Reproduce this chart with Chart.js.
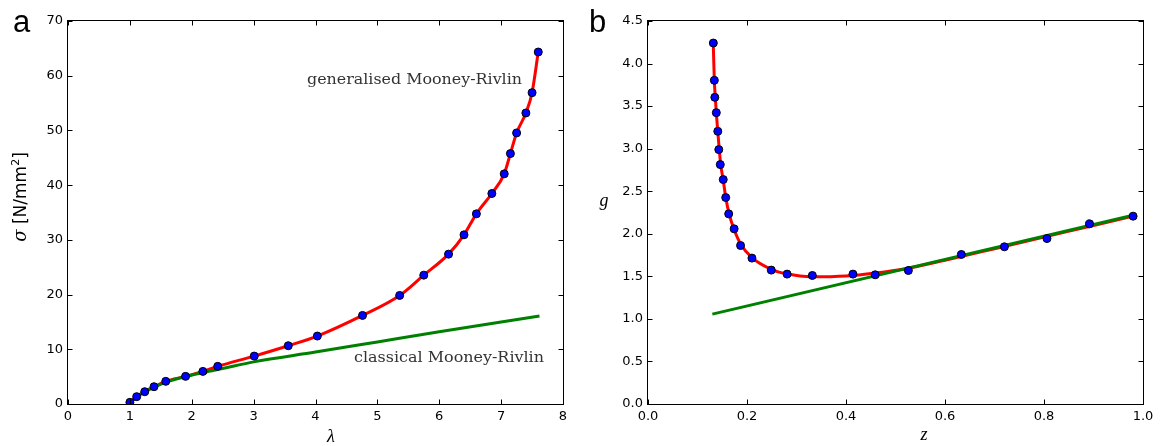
<!DOCTYPE html>
<html>
<head>
<meta charset="utf-8">
<script src="https://cdn.jsdelivr.net/npm/chart.js@4.4.1/dist/chart.umd.min.js"></script>
<style>
  body { margin: 0; background: #fff; }
  #wrap { display: flex; width: 1161px; height: 446px; }
  .panel { position: relative; height: 446px; }
</style>
</head>
<body>
<div id="wrap">
  <div class="panel" style="width:580px"><canvas id="chartA"></canvas></div>
  <div class="panel" style="width:581px"><canvas id="chartB"></canvas></div>
</div>
<script>
// panel a - measured stress vs stretch
const lambdaPts = [1.00, 1.11, 1.24, 1.39, 1.58, 1.90, 2.18, 2.42, 3.01, 3.56, 4.03, 4.76, 5.36, 5.75, 6.15, 6.40, 6.60, 6.85, 7.05, 7.15, 7.25, 7.40, 7.50, 7.60];
const sigmaPts = [0.3, 1.34, 2.25, 3.16, 4.14, 5.05, 5.96, 6.88, 8.76, 10.65, 12.42, 16.19, 19.84, 23.55, 27.39, 30.92, 34.75, 38.47, 42.06, 45.77, 49.54, 53.19, 56.9, 64.33];
// classical Mooney-Rivlin fit
const classicLambda = [1.00, 1.10, 1.25, 1.40, 1.60, 1.90, 2.20, 2.50, 3.00, 4.00, 5.00, 6.00, 7.00, 7.62];
const classicSigma = [0.0, 1.25, 2.3, 3.15, 4.05, 5.0, 5.8, 6.5, 7.7, 9.5, 11.35, 13.2, 15.0, 16.1];
const aXTicks = [0, 1, 2, 3, 4, 5, 6, 7, 8];
const aYTicks = [0, 10, 20, 30, 40, 50, 60, 70];

// panel b - measured points
const zPts = [0.132, 0.134, 0.135, 0.138, 0.141, 0.143, 0.146, 0.152, 0.157, 0.163, 0.174, 0.187, 0.210, 0.249, 0.281, 0.332, 0.414, 0.459, 0.526, 0.633, 0.720, 0.806, 0.892, 0.980];
const gPts = [4.241, 3.803, 3.603, 3.423, 3.204, 2.989, 2.813, 2.637, 2.426, 2.234, 2.058, 1.862, 1.714, 1.573, 1.526, 1.510, 1.526, 1.518, 1.569, 1.757, 1.847, 1.944, 2.117, 2.207];
// generalised fit (red)
const fitZ = [0.132, 0.134, 0.136, 0.138, 0.141, 0.144, 0.147, 0.152, 0.157, 0.164, 0.174, 0.188, 0.210, 0.250, 0.280, 0.330, 0.400, 0.460, 0.520, 0.600, 0.700, 0.800, 0.900, 0.980];
const fitG = [4.20, 3.80, 3.60, 3.42, 3.20, 2.99, 2.81, 2.63, 2.43, 2.23, 2.05, 1.87, 1.72, 1.58, 1.53, 1.495, 1.505, 1.54, 1.59, 1.69, 1.825, 1.962, 2.098, 2.208];
// classical fit (green)
const lineZ = [0.130, 0.980];
const lineG = [1.056, 2.218];
const bXTicks = [0, 0.2, 0.4, 0.6, 0.8, 1.0];
const bXLabels = ['0.0', '0.2', '0.4', '0.6', '0.8', '1.0'];
const bYTicks = [0, 0.5, 1.0, 1.5, 2.0, 2.5, 3.0, 3.5, 4.0, 4.5];
const bYLabels = ['0.0', '0.5', '1.0', '1.5', '2.0', '2.5', '3.0', '3.5', '4.0', '4.5'];

const tickFont = { family: '"DejaVu Sans", sans-serif', size: 13 };

function pairs(xs, ys) {
  return xs.map((x, i) => ({ x: x, y: ys[i] }));
}

// box around the axes with inward ticks on all four sides
const framePlugin = {
  id: 'frame',
  afterDraw(chart) {
    const { ctx, chartArea: a, scales } = chart;
    const L = a.left - 0.5, R = a.right + 0.5, T = a.top - 0.5, B = a.bottom + 0.5;
    ctx.save();
    ctx.strokeStyle = '#000';
    ctx.lineWidth = 1;
    ctx.beginPath();
    scales.x.ticks.forEach(t => {
      const px = Math.round(scales.x.getPixelForValue(t.value)) + 0.5;
      ctx.moveTo(px, B); ctx.lineTo(px, B - 5);
      ctx.moveTo(px, T); ctx.lineTo(px, T + 5);
    });
    scales.y.ticks.forEach(t => {
      const py = Math.round(scales.y.getPixelForValue(t.value)) + 0.5;
      ctx.moveTo(L, py); ctx.lineTo(L + 5, py);
      ctx.moveTo(R, py); ctx.lineTo(R - 5, py);
    });
    ctx.stroke();
    ctx.strokeRect(L, T, R - L, B - T);
    ctx.restore();
  }
};

function fitText(ctx, text, x, y, width) {
  const w = ctx.measureText(text).width;
  ctx.save();
  ctx.translate(x, y);
  ctx.scale(width / w, 1);
  ctx.fillText(text, 0, 0);
  ctx.restore();
}

const textA = {
  id: 'textA',
  afterDraw(chart) {
    const ctx = chart.ctx;
    ctx.save();
    ctx.fillStyle = '#000';
    ctx.textBaseline = 'alphabetic';
    ctx.font = '31px "Liberation Sans", sans-serif';
    ctx.fillText('a', 13, 32);

    ctx.font = 'italic 18px "Liberation Serif", serif';
    ctx.textAlign = 'center';
    ctx.fillText('λ', 331, 442);

    ctx.textAlign = 'left';
    ctx.fillStyle = '#333';
    ctx.font = '15px "DejaVu Serif", serif';
    fitText(ctx, 'generalised Mooney-Rivlin', 307, 84, 215);
    fitText(ctx, 'classical Mooney-Rivlin', 354, 362, 190);

    // rotated y title with superscript
    ctx.fillStyle = '#000';
    const parts = [
      { t: 'σ', f: 'italic 18px "DejaVu Serif", serif', dy: 0 },
      { t: ' [N/mm', f: '17px "DejaVu Sans", sans-serif', dy: 0 },
      { t: '2', f: '11px "DejaVu Sans", sans-serif', dy: -7 },
      { t: ']', f: '17px "DejaVu Sans", sans-serif', dy: 0 }
    ];
    let total = 0;
    parts.forEach(p => { ctx.font = p.f; p.w = ctx.measureText(p.t).width; total += p.w; });
    ctx.translate(26, 197);
    ctx.rotate(-Math.PI / 2);
    let cx = -total / 2;
    parts.forEach(p => { ctx.font = p.f; ctx.fillText(p.t, cx, p.dy); cx += p.w; });
    ctx.restore();
  }
};

const textB = {
  id: 'textB',
  afterDraw(chart) {
    const ctx = chart.ctx;
    ctx.save();
    ctx.fillStyle = '#000';
    ctx.textBaseline = 'alphabetic';
    ctx.font = '31px "Liberation Sans", sans-serif';
    ctx.fillText('b', 9, 32);
    ctx.font = 'italic 18px "Liberation Serif", serif';
    ctx.textAlign = 'center';
    ctx.fillText('z', 344, 440);
    ctx.fillText('g', 24, 206);
    ctx.restore();
  }
};

function axes(xmin, xmax, xTicks, xLabels, ymin, ymax, yTicks, yLabels) {
  return {
    x: {
      type: 'linear', min: xmin, max: xmax,
      grid: { display: false, drawTicks: false }, border: { display: false },
      afterBuildTicks: s => { s.ticks = xTicks.map(v => ({ value: v })); },
      afterFit: s => { s.height = 42; },
      ticks: { font: tickFont, color: '#000', padding: 5, maxRotation: 0, autoSkip: false,
               callback: (v, i) => xLabels[i] }
    },
    y: {
      type: 'linear', min: ymin, max: ymax,
      grid: { display: false, drawTicks: false }, border: { display: false },
      afterBuildTicks: s => { s.ticks = yTicks.map(v => ({ value: v })); },
      afterFit: s => { s.width = 68; },
      ticks: { font: tickFont, color: '#000', padding: 5, autoSkip: false,
               callback: (v, i) => yLabels[i] }
    }
  };
}

function options(rightPad, scales) {
  return {
    responsive: true,
    maintainAspectRatio: false,
    animation: false,
    layout: { padding: { top: 21, right: rightPad, left: 0, bottom: 0 } },
    plugins: { legend: { display: false }, tooltip: { enabled: false } },
    scales: scales
  };
}

const dotStyle = {
  showLine: false, pointRadius: 4, pointBackgroundColor: '#0000ff',
  pointBorderColor: '#000', pointBorderWidth: 1, order: 0
};

new Chart(document.getElementById('chartA'), {
  type: 'scatter',
  data: {
    datasets: [
      Object.assign({ data: pairs(lambdaPts, sigmaPts) }, dotStyle),
      { data: pairs(classicLambda, classicSigma), showLine: true, pointRadius: 0,
        borderColor: '#008000', borderWidth: 3, cubicInterpolationMode: 'monotone', order: 1 },
      { data: pairs(lambdaPts, sigmaPts), showLine: true, pointRadius: 0,
        borderColor: '#ff0000', borderWidth: 3, cubicInterpolationMode: 'monotone', order: 2 }
    ]
  },
  options: options(17, axes(0, 8, aXTicks, aXTicks.map(String), 0, 70, aYTicks, aYTicks.map(String))),
  plugins: [framePlugin, textA]
});

new Chart(document.getElementById('chartB'), {
  type: 'scatter',
  data: {
    datasets: [
      Object.assign({ data: pairs(zPts, gPts) }, dotStyle),
      { data: pairs(lineZ, lineG), showLine: true, pointRadius: 0,
        borderColor: '#008000', borderWidth: 3, order: 1 },
      { data: pairs(fitZ, fitG), showLine: true, pointRadius: 0,
        borderColor: '#ff0000', borderWidth: 3, cubicInterpolationMode: 'monotone', order: 2 }
    ]
  },
  options: options(18, axes(0, 1, bXTicks, bXLabels, 0, 4.5, bYTicks, bYLabels)),
  plugins: [framePlugin, textB]
});
</script>
</body>
</html>
